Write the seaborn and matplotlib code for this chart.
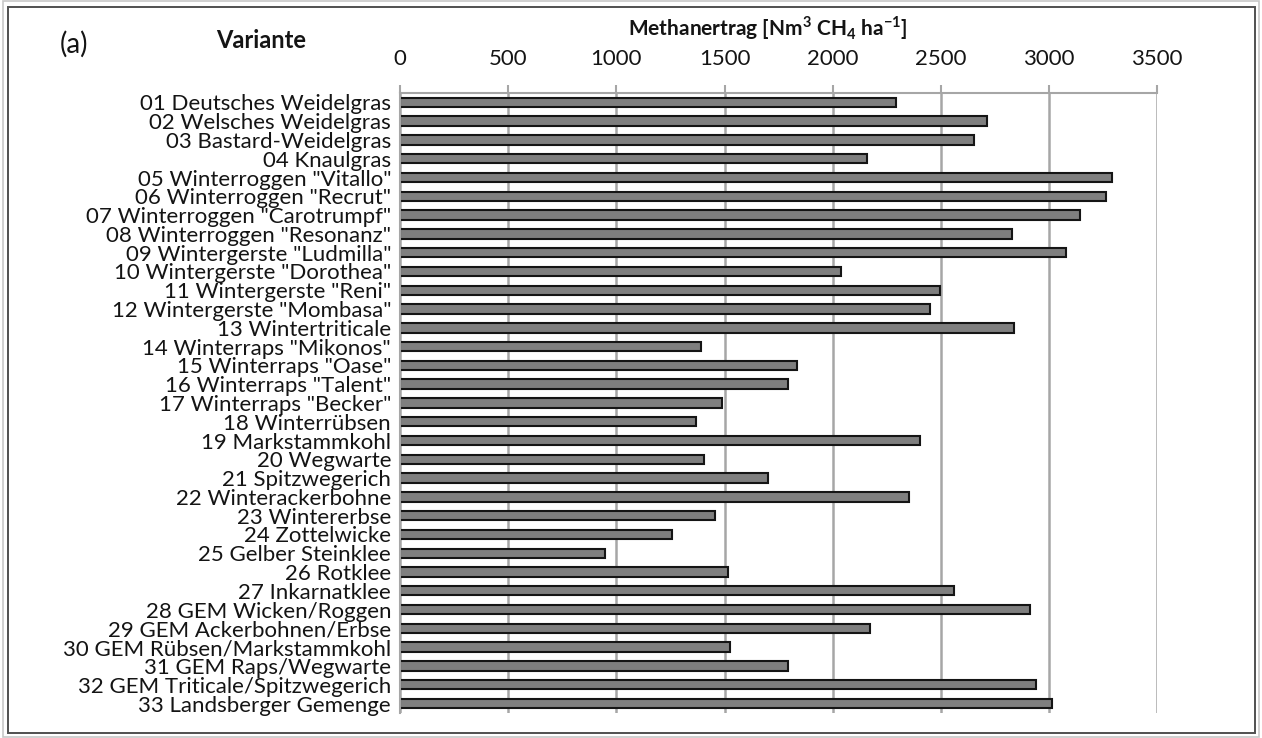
import matplotlib
matplotlib.use("Agg")
import matplotlib.pyplot as plt
import seaborn as sns
from matplotlib.patches import Rectangle

varianten = [
    "01 Deutsches Weidelgras", "02 Welsches Weidelgras", "03 Bastard-Weidelgras",
    "04 Knaulgras", '05 Winterroggen "Vitallo"', '06 Winterroggen "Recrut"',
    '07 Winterroggen "Carotrumpf"', '08 Winterroggen "Resonanz"',
    '09 Wintergerste "Ludmilla"', '10 Wintergerste "Dorothea"',
    '11 Wintergerste "Reni"', '12 Wintergerste "Mombasa"', "13 Wintertriticale",
    '14 Winterraps "Mikonos"', '15 Winterraps "Oase"', '16 Winterraps "Talent"',
    '17 Winterraps "Becker"', "18 Winterrübsen", "19 Markstammkohl",
    "20 Wegwarte", "21 Spitzwegerich", "22 Winterackerbohne", "23 Wintererbse",
    "24 Zottelwicke", "25 Gelber Steinklee", "26 Rotklee", "27 Inkarnatklee",
    "28 GEM Wicken/Roggen", "29 GEM Ackerbohnen/Erbse",
    "30 GEM Rübsen/Markstammkohl", "31 GEM Raps/Wegwarte",
    "32 GEM Triticale/Spitzwegerich", "33 Landsberger Gemenge",
]
methanertrag = [
    2293, 2713, 2653, 2159, 3289, 3263, 3143, 2829, 3078, 2040,
    2496, 2451, 2838, 1393, 1835, 1792, 1487, 1366, 2404, 1403,
    1700, 2351, 1458, 1255, 947, 1515, 2559, 2912, 2174, 1523,
    1792, 2940, 3014,
]
x_ticks = [0, 500, 1000, 1500, 2000, 2500, 3000, 3500]

sns.set_style("white")
plt.rcParams["font.family"] = ["Lato", "DejaVu Sans"]
plt.rcParams["mathtext.fontset"] = "custom"
plt.rcParams["mathtext.rm"] = "Lato"
plt.rcParams["mathtext.bf"] = "Lato:bold"

txt = "#141414"
grid_c = "#a6a6a6"

fig = plt.figure(figsize=(12.62, 7.38), dpi=100)
ax = fig.add_axes([0.317, 0.034, 0.6, 0.840])

sns.barplot(x=methanertrag, y=varianten, orient="h", color="#7f7f7f",
            edgecolor="#151515", linewidth=1.5, width=0.5, saturation=1, ax=ax)

ax.set_xlim(0, 3500)
ax.set_ylim(32.5, -0.5)
ax.set_xticks(x_ticks)
ax.xaxis.tick_top()
ax.xaxis.grid(True, color=grid_c, linewidth=1.8)
ax.set_axisbelow(True)
ax.tick_params(axis="x", top=True, direction="out", length=6, width=1.5,
               color=grid_c, pad=11, labelsize=16, labelcolor=txt)
ax.tick_params(axis="y", left=False, pad=3, labelsize=16, labelcolor=txt)
for s in ["right", "bottom"]:
    ax.spines[s].set_visible(False)
for s in ["top", "left"]:
    ax.spines[s].set_color(grid_c)
    ax.spines[s].set_linewidth(1.5)
ax.set_xlabel("")
ax.set_ylabel("")

fig.text(0.608, 0.962, r"Methanertrag [Nm$^\mathbf{3}$ CH$_\mathbf{4}$ ha$^\mathbf{-1}$]",
         ha="center", va="center", fontsize=15, fontweight="bold", color=txt)
fig.text(0.207, 0.945, "Variante", ha="center", va="center", fontsize=17,
         fontweight="bold", color=txt)
fig.text(0.059, 0.940, "(a)", ha="center", va="center", fontsize=20, color=txt)

# frame around the chart
fig.patches.append(Rectangle((0.002, 0.002), 0.996, 0.996, transform=fig.transFigure,
                             fill=False, edgecolor="#c8c8c8", linewidth=1.2))
fig.patches.append(Rectangle((0.0065, 0.007), 0.988, 0.984, transform=fig.transFigure,
                             fill=False, edgecolor="#505050", linewidth=1.4))

plt.savefig("out.png", dpi=100)
